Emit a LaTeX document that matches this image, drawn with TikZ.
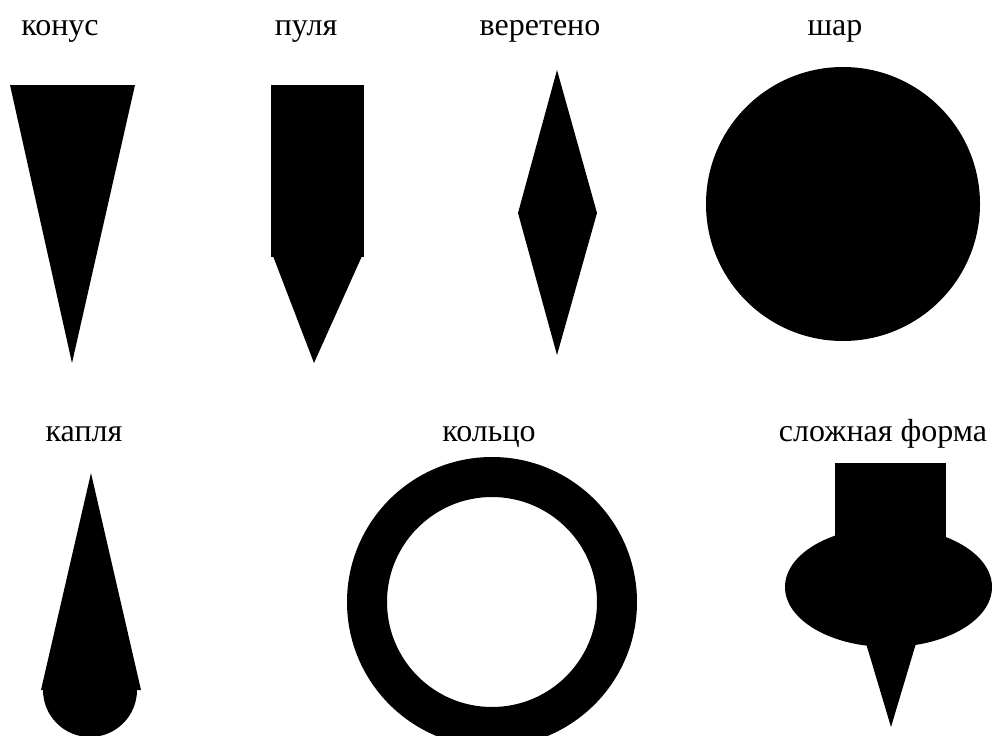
\documentclass[tikz,border=0pt]{standalone}
\usepackage{fontspec}
\setmainfont{Liberation Serif}
\begin{document}
\begin{tikzpicture}[x=1pt,y=-1pt,
  lbl/.style={anchor=base,inner sep=0pt,font=\fontsize{32}{38}\selectfont},
  solid/.style={fill=black,draw=none}]
\useasboundingbox (0,0) rectangle (994,736);
\path[fill=white] (0,0) rectangle (994,736);
% labels
\node[lbl] (t1) at (60,35) {конус};
\node[lbl] (t2) at (306,35) {пуля};
\node[lbl] (t3) at (540,35) {веретено};
\node[lbl] (t4) at (835,35) {шар};
\node[lbl] (t5) at (84,441) {капля};
\node[lbl] (t6) at (489,441) {кольцо};
\node[lbl] (t7) at (883,441) {сложная форма};
% cone
\fill[solid] (10,85) -- (135,85) -- (72,363) -- cycle;
% bullet
\fill[solid] (271,85) rectangle (364,257);
\fill[solid] (273,256) -- (362,256) -- (314,363) -- cycle;
% spindle
\fill[solid] (557,70) -- (597,213) -- (557,355) -- (518,213) -- cycle;
% ball
\fill[solid] (843,204) circle[radius=137];
% drop
\fill[solid] (91,473) -- (141,690) -- (41,690) -- cycle;
\fill[solid] (90,690) circle[radius=47];
% ring
\fill[solid,even odd rule] (492,602) circle[radius=145] (492,602) circle[radius=105];
% complex
\fill[solid] (835,463) rectangle (946,560);
\fill[solid] (888.5,587) ellipse[x radius=103.5,y radius=60];
\fill[solid] (865,640) -- (917,640) -- (891,727) -- cycle;
\end{tikzpicture}
\end{document}
